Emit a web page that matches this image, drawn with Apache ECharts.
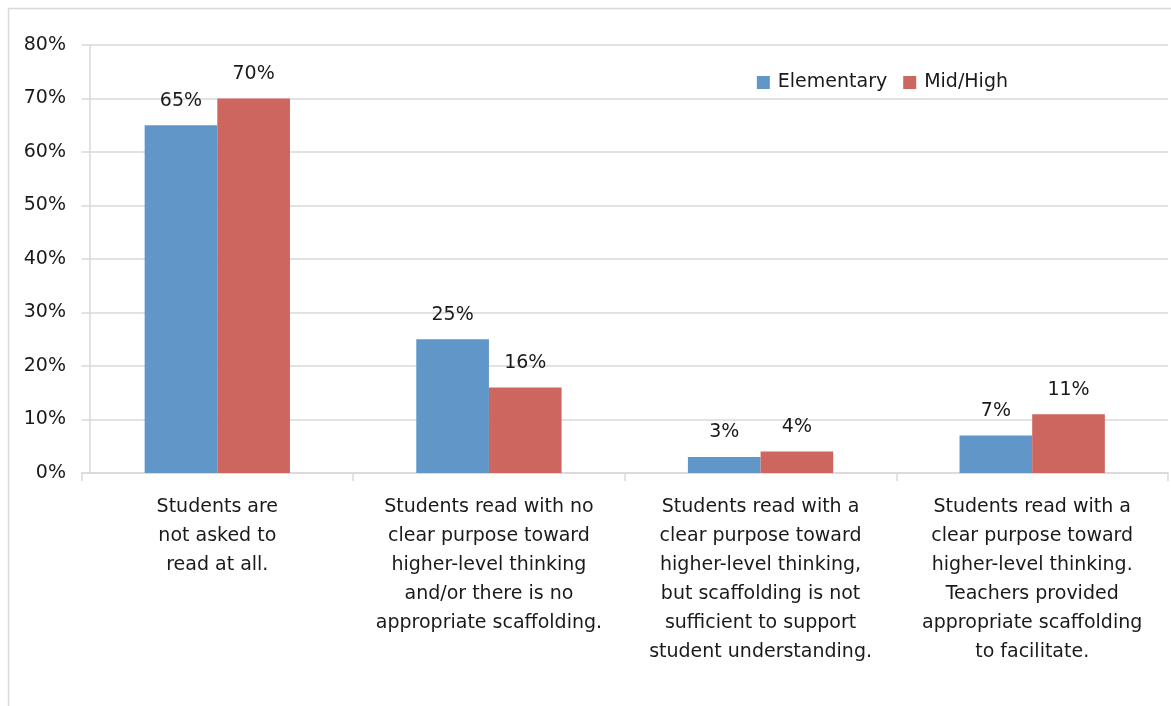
<!DOCTYPE html>
<html><head><meta charset="utf-8">
<script src="https://cdn.jsdelivr.net/npm/echarts@6/dist/echarts.min.js"></script>
<style>html,body{margin:0;padding:0;background:#fff}#c{width:1171px;height:706px}</style>
</head><body><div id="c"></div>
<script>
const categories = [
  "Students are\nnot asked to\nread at all.",
  "Students read with no\nclear purpose toward\nhigher-level thinking\nand/or there is no\nappropriate scaffolding.",
  "Students read with a\nclear purpose toward\nhigher-level thinking,\nbut scaffolding is not\nsufficient to support\nstudent understanding.",
  "Students read with a\nclear purpose toward\nhigher-level thinking.\nTeachers provided\nappropriate scaffolding\nto facilitate."
];
const elementary = [65, 25, 3, 7];
const midHigh = [70, 16, 4, 11];
const seriesNames = ["Elementary", "Mid/High"];

const font = "'DejaVu Sans', sans-serif";
const chart = echarts.init(document.getElementById('c'));
chart.setOption({
  animation: false,
  graphic: [{type:'rect', shape:{x:8.5,y:8.5,width:1200,height:800}, style:{fill:'none', stroke:'#d9d9d9', lineWidth:1.5}, silent:true}],
  legend: {
    right: 158, top: 68, itemWidth: 13, itemHeight: 13, itemGap: 16,
    icon: 'rect',
    textStyle: {fontFamily: font, fontSize: 19, color: '#1a1a1a', padding:[0,0,0,3]},
    data: seriesNames
  },
  grid: {left: 81.5, right: 3, top: 45, bottom: 233, containLabel: false},
  xAxis: {
    type: 'category', data: categories,
    axisLine: {lineStyle: {color: '#d9d9d9', width: 1.5}},
    axisTick: {show: true, length: 8, lineStyle: {color: '#d9d9d9', width: 1.5}},
    axisLabel: {fontFamily: font, fontSize: 19, color: '#1a1a1a', lineHeight: 29, margin: 20, interval: 0, align: 'center'}
  },
  yAxis: {
    type: 'value', min: 0, max: 80, interval: 10, offset: -8.5,
    axisLine: {show: true, lineStyle: {color: '#d9d9d9', width: 1.5}},
    axisTick: {show: false},
    splitLine: {lineStyle: {color: '#d9d9d9', width: 1.5}},
    axisLabel: {fontFamily: font, fontSize: 19, color: '#1a1a1a', margin: 24, formatter: '{value}%'}
  },
  series: [
    {name: seriesNames[0], type: 'bar', data: elementary, barGap: '0%', barCategoryGap: '46.5%',
     itemStyle: {color: '#6096C8'},
     label: {show: true, position: 'top', distance: 15, formatter: '{c}%', fontFamily: font, fontSize: 19, color: '#1a1a1a'}},
    {name: seriesNames[1], type: 'bar', data: midHigh, barGap: '0%', barCategoryGap: '46.5%',
     itemStyle: {color: '#CD665F'},
     label: {show: true, position: 'top', distance: 15, formatter: '{c}%', fontFamily: font, fontSize: 19, color: '#1a1a1a'}}
  ]
});
</script></body></html>
